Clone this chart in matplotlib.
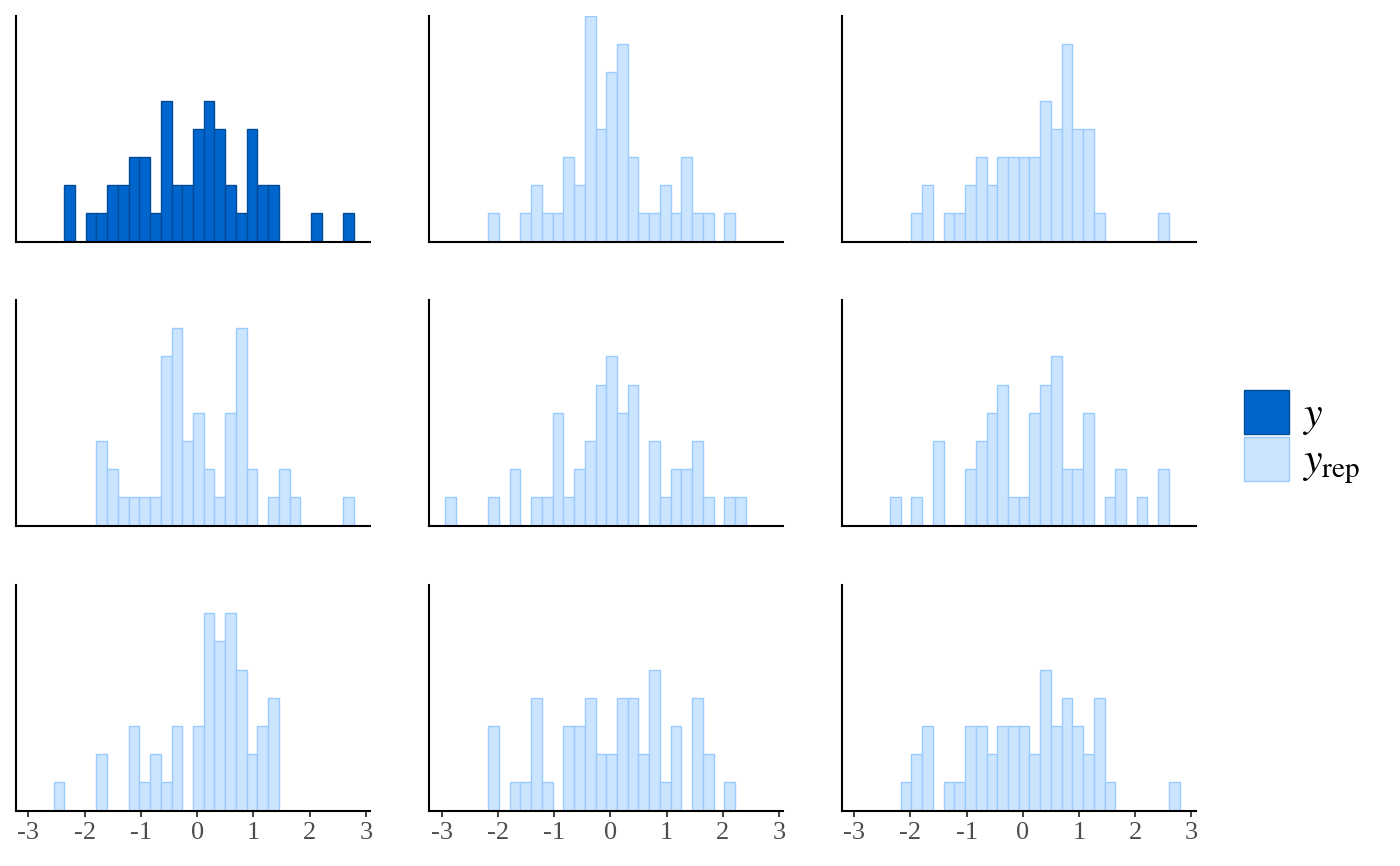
import numpy as np
import matplotlib
matplotlib.use('Agg')
import matplotlib.pyplot as plt
from matplotlib.patches import Patch

plt.rcParams['font.family'] = ['Liberation Serif', 'DejaVu Serif']
plt.rcParams['mathtext.fontset'] = 'stix'
plt.rcParams['axes.unicode_minus'] = False

# 30 shared bins
bin_start = -2.935
bin_width = 0.1908
n_bins = 30

# counts per bin, observed y first, then 8 replicated draws
y_counts = [0, 0, 0, 2, 0, 1, 1, 2, 2, 3, 3, 1, 5, 2, 2, 4, 5, 4, 2, 1, 4, 2, 2, 0, 0, 0, 1, 0, 0, 1]
rep_1 = [0, 0, 0, 0, 1, 0, 0, 1, 2, 1, 1, 3, 2, 8, 4, 6, 7, 3, 1, 1, 2, 1, 3, 1, 1, 0, 1, 0, 0, 0]
rep_2 = [0, 0, 0, 0, 0, 1, 2, 0, 1, 1, 2, 3, 2, 3, 3, 3, 3, 5, 4, 7, 4, 4, 1, 0, 0, 0, 0, 0, 1, 0]
rep_3 = [0, 0, 0, 0, 0, 0, 3, 2, 1, 1, 1, 1, 6, 7, 3, 4, 2, 1, 4, 7, 2, 0, 1, 2, 1, 0, 0, 0, 0, 1]
rep_4 = [1, 0, 0, 0, 1, 0, 2, 0, 1, 1, 4, 1, 2, 3, 5, 6, 4, 5, 0, 3, 1, 2, 2, 3, 1, 0, 1, 1, 0, 0]
rep_5 = [0, 0, 0, 1, 0, 1, 0, 3, 0, 0, 2, 3, 4, 5, 1, 1, 4, 5, 6, 2, 2, 4, 0, 1, 2, 0, 1, 0, 2, 0]
rep_6 = [0, 0, 1, 0, 0, 0, 2, 0, 0, 3, 1, 2, 1, 3, 0, 3, 7, 6, 7, 5, 2, 3, 4, 0, 0, 0, 0, 0, 0, 0]
rep_7 = [0, 0, 0, 0, 3, 0, 1, 1, 4, 1, 0, 3, 3, 4, 2, 2, 4, 4, 2, 5, 1, 3, 0, 4, 2, 0, 1, 0, 0, 0]
rep_8 = [0, 0, 0, 0, 1, 2, 3, 0, 1, 1, 3, 3, 2, 3, 3, 3, 2, 5, 3, 4, 3, 2, 4, 1, 0, 0, 0, 0, 0, 1]

panels = [y_counts, rep_1, rep_2, rep_3, rep_4, rep_5, rep_6, rep_7, rep_8]
x_ticks = [-3, -2, -1, 0, 1, 2, 3]

dark_fill, dark_edge = '#0065cc', '#004c99'
light_fill, light_edge = '#cce5ff', '#99cbff'

edges = bin_start + bin_width * np.arange(n_bins + 1)
span = edges[-1] - edges[0]
xlim = (edges[0] - 0.05 * span, edges[-1] + 0.05 * span)
ymax = max(max(c) for c in panels)

W, H = 1400, 866
fig = plt.figure(figsize=(W / 100, H / 100), dpi=100)

lefts = [16, 429.3, 841.7]
tops = [16, 300, 585]
pw, ph = 354, 225.5

for i, counts in enumerate(panels):
    r, c = divmod(i, 3)
    ax = fig.add_axes([lefts[c] / W, 1 - (tops[r] + ph) / H, pw / W, ph / H])
    fill, edge = (dark_fill, dark_edge) if i == 0 else (light_fill, light_edge)
    counts = np.array(counts)
    keep = counts > 0
    ax.bar(edges[:-1][keep], counts[keep], width=bin_width, align='edge',
           color=fill, edgecolor=edge, linewidth=1.0)
    ax.set_xlim(xlim)
    ax.set_ylim(0, ymax)
    for s in ['top', 'right']:
        ax.spines[s].set_visible(False)
    for s in ['left', 'bottom']:
        ax.spines[s].set_linewidth(1.5)
        ax.spines[s].set_color('black')
    ax.set_yticks([])
    ax.set_xticks(x_ticks)
    if r == 2:
        ax.set_xticklabels([str(t) for t in x_ticks])
        ax.tick_params(axis='x', length=4, width=1.3, color='#333333',
                       labelsize=19, labelcolor='#4d4d4d', pad=4)
    else:
        ax.tick_params(axis='x', length=0, labelbottom=False)

handles = [Patch(facecolor=dark_fill, edgecolor=dark_edge, linewidth=1.0),
           Patch(facecolor=light_fill, edgecolor=light_edge, linewidth=1.0)]
fig.legend(handles, [r'$y$', r'$y_{\mathrm{rep}}$'], loc='center left',
           bbox_to_anchor=(1244 / W, 1 - 438 / H), frameon=False, fontsize=30,
           handlelength=1.08, handleheight=1.25, handletextpad=0.3,
           labelspacing=0.0, borderaxespad=0, borderpad=0)

fig.savefig('out.png', dpi=100)
